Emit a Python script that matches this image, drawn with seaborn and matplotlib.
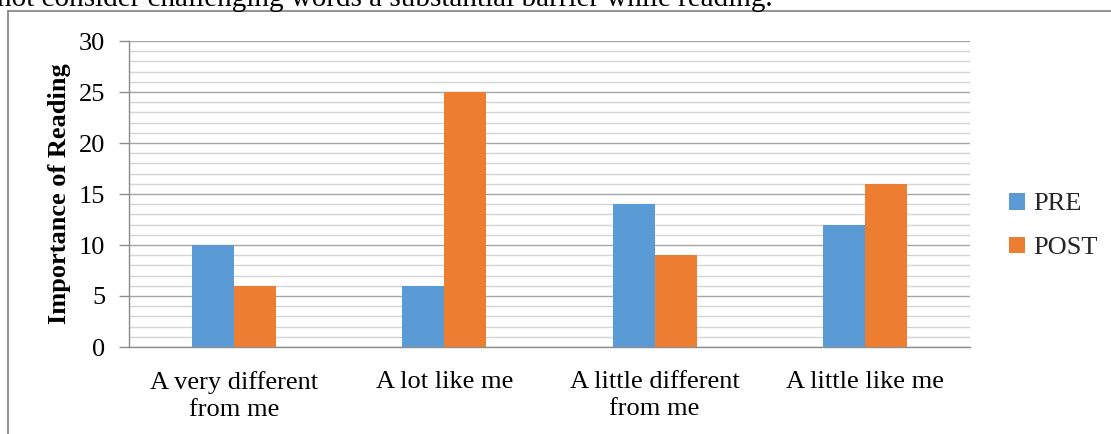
import matplotlib
matplotlib.use("Agg")
import matplotlib.pyplot as plt
from matplotlib.ticker import MultipleLocator
from matplotlib.lines import Line2D
from matplotlib.patches import Patch
import pandas as pd
import seaborn as sns

categories = ["A very different\nfrom me", "A lot like me",
              "A little different\nfrom me", "A little like me"]
pre_values = [10, 6, 14, 12]
post_values = [6, 25, 9, 16]
series_names = ["PRE", "POST"]
colors = ["#5B9BD5", "#ED7D31"]

df = pd.DataFrame({
    "category": categories * 2,
    "value": pre_values + post_values,
    "series": [series_names[0]] * 4 + [series_names[1]] * 4,
})

sns.set_theme(style="white")
plt.rcParams["font.family"] = ["Liberation Serif", "DejaVu Serif"]

FS = 19

fig = plt.figure(figsize=(11.11, 4.34), dpi=100)
ax = fig.add_axes([129 / 1111, 1 - 347 / 434, (970 - 129) / 1111, (347 - 41) / 434])

sns.barplot(data=df, x="category", y="value", hue="series", order=categories,
            hue_order=series_names, palette=colors, width=0.4, saturation=1,
            edgecolor="none", ax=ax, legend=False, zorder=3)

ax.set_ylim(0, 30)
ax.set_xlim(-0.5, 3.5)
ax.yaxis.set_major_locator(MultipleLocator(5))
ax.yaxis.set_minor_locator(MultipleLocator(1))
ax.grid(which="major", axis="y", color="#A6A6A6", linewidth=1.0, zorder=0)
ax.grid(which="minor", axis="y", color="#D4D4D4", linewidth=1.0, zorder=0)
ax.set_axisbelow(True)

for side in ["top", "right"]:
    ax.spines[side].set_visible(False)
for side in ["left", "bottom"]:
    ax.spines[side].set_color("#8C8C8C")
    ax.spines[side].set_linewidth(1.0)

ax.tick_params(axis="y", which="major", left=True, length=7, width=1,
               color="#8C8C8C", labelsize=FS, pad=10, labelcolor="black")
ax.tick_params(axis="y", which="minor", left=False)
ax.tick_params(axis="x", bottom=False, labelsize=FS, pad=11, labelcolor="black")
for lbl in ax.get_xticklabels():
    lbl.set_linespacing(1.3)
ax.set_xlabel("")
ax.set_ylabel("Importance of Reading", fontsize=FS, fontweight="bold",
              color="black", labelpad=6)

handles = [Patch(facecolor=c, edgecolor="none") for c in colors]
fig.legend(handles, series_names, loc="center left",
           bbox_to_anchor=(996 / 1111, 1 - 226 / 434), frameon=False,
           fontsize=FS, handlelength=0.6, handleheight=0.6, handletextpad=0.3,
           labelspacing=0.8, borderpad=0)

# Surrounding chart frame and the sentence above it
fig.add_artist(Line2D([8 / 1111, 1.0], [1 - 11 / 434, 1 - 11 / 434],
                      color="#7F7F7F", linewidth=1.2, transform=fig.transFigure))
fig.add_artist(Line2D([8 / 1111, 8 / 1111], [0, 1 - 11 / 434],
                      color="#7F7F7F", linewidth=1.2, transform=fig.transFigure))
fig.text(-3 / 1111, 1 - 6 / 434,
         "not consider challenging words a substantial barrier while reading.",
         fontsize=21, color="black", ha="left", va="baseline")

fig.savefig("out.png", dpi=100)
